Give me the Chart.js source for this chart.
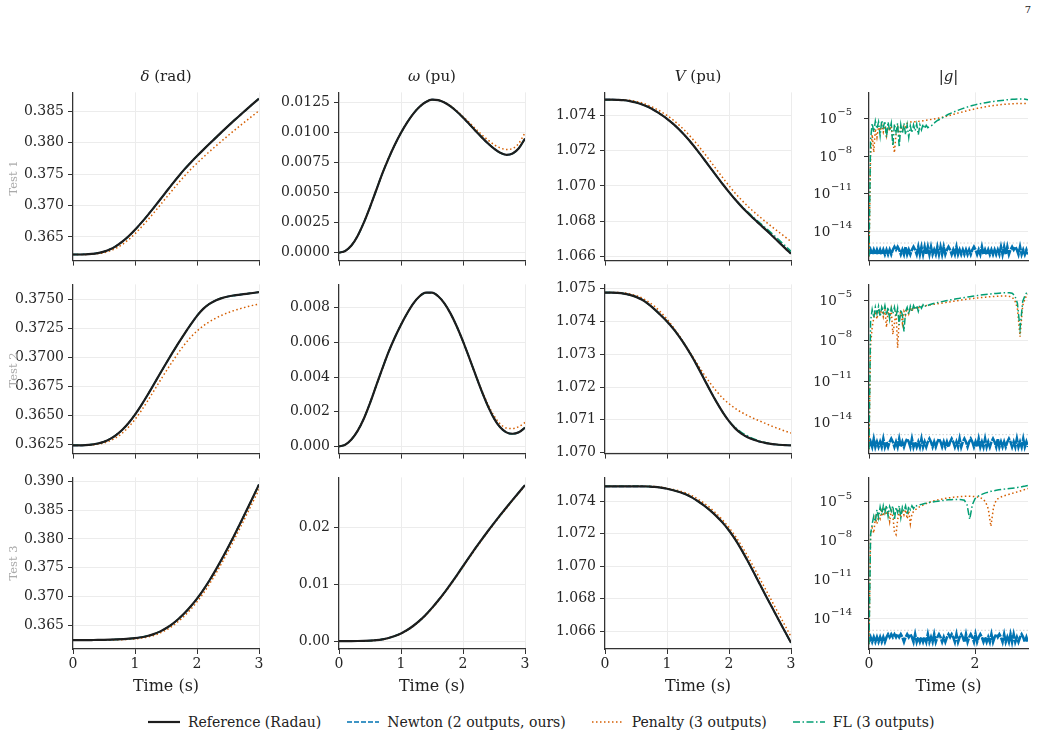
<!DOCTYPE html>
<html>
<head>
<meta charset="utf-8">
<script src="https://cdn.jsdelivr.net/npm/chart.js@4.4.1/dist/chart.umd.min.js"></script>
<style>
  body { margin: 0; background: #fff; font-family: 'DejaVu Serif', serif; color: #222; }
  #fig { position: relative; width: 1038px; height: 738px; overflow: hidden; }
  #fig canvas { position: absolute; }
  .title { position: absolute; top: 66px; text-align: center; font-size: 15px; line-height: 20px; }
  .xlabel { position: absolute; top: 676px; text-align: center; font-size: 16px; line-height: 20px; }
  .rowlab { position: absolute; width: 80px; text-align: center; font-size: 11.5px; line-height: 14px; color: #aaa; transform: rotate(-90deg); }
  .legend { position: absolute; left: 148px; top: 713px; display: flex; gap: 26px; font-size: 14px; line-height: 18px; }
  .legend span { display: flex; align-items: center; white-space: nowrap; }
  .legend svg { margin-right: 8px; }
  .pageno { position: absolute; right: 7px; top: 4px; font-size: 10px; }
</style>
</head>
<body>
<div id="fig"></div>
<script>
// time axis of the state trajectories (s)
const time = [0, 0.1, 0.2, 0.3, 0.4, 0.5, 0.6, 0.7, 0.8, 0.9, 1.0, 1.1, 1.2, 1.3, 1.4, 1.5, 1.6, 1.7, 1.8, 1.9,
  2.0, 2.1, 2.2, 2.3, 2.4, 2.5, 2.6, 2.7, 2.8, 2.9, 3.0];

// ---- Test 1 ----
const delta1Ref = [0.36222, 0.36222, 0.36225, 0.36232, 0.36245, 0.36268, 0.36305, 0.36360, 0.36430, 0.36515,
  0.36614, 0.36724, 0.36840, 0.36962, 0.37087, 0.37214, 0.37340, 0.37462, 0.37578, 0.37685,
  0.37786, 0.37884, 0.37980, 0.38075, 0.38170, 0.38262, 0.38352, 0.38440, 0.38528, 0.38614, 0.38698];
const delta1Pen = [0.36222, 0.36222, 0.36223, 0.36227, 0.36236, 0.36252, 0.36280, 0.36325, 0.36385, 0.36462,
  0.36552, 0.36655, 0.36765, 0.36880, 0.37000, 0.37120, 0.37240, 0.37358, 0.37470, 0.37575,
  0.37672, 0.37765, 0.37855, 0.37942, 0.38026, 0.38110, 0.38192, 0.38272, 0.38350, 0.38428, 0.38505];
const omega1Ref = [0, 0.00015, 0.0006, 0.0014, 0.0025, 0.0038, 0.0052, 0.0066, 0.00785, 0.00898,
  0.00998, 0.01085, 0.01158, 0.01215, 0.01254, 0.01274, 0.01270, 0.01250, 0.01218, 0.01175,
  0.01125, 0.01071, 0.01016, 0.00962, 0.00911, 0.00866, 0.00832, 0.00815, 0.00826, 0.00870, 0.00950];
const omega1Pen = [0, 0.00015, 0.0006, 0.0014, 0.0025, 0.0038, 0.0052, 0.0066, 0.00785, 0.00898,
  0.00998, 0.01085, 0.01158, 0.01215, 0.01254, 0.01274, 0.01271, 0.01252, 0.01222, 0.01180,
  0.01134, 0.01084, 0.01033, 0.00984, 0.00939, 0.00900, 0.00872, 0.00860, 0.00868, 0.00910, 0.00998];
const volt1Ref = [1.07487, 1.07487, 1.07486, 1.07484, 1.07479, 1.07471, 1.07460, 1.07445, 1.07426, 1.07404,
  1.07379, 1.07350, 1.07317, 1.07280, 1.07239, 1.07195, 1.07149, 1.07102, 1.07055, 1.07009,
  1.06965, 1.06923, 1.06884, 1.06848, 1.06814, 1.06782, 1.06750, 1.06717, 1.06684, 1.06650, 1.06617];
const volt1Fl = [1.07487, 1.07487, 1.07486, 1.07484, 1.07479, 1.07471, 1.07460, 1.07445, 1.07426, 1.07404,
  1.07379, 1.07350, 1.07317, 1.07280, 1.07239, 1.07195, 1.07149, 1.07102, 1.07055, 1.07009,
  1.06965, 1.06925, 1.06888, 1.06853, 1.06821, 1.06790, 1.06760, 1.06729, 1.06697, 1.06664, 1.06630];
const volt1Pen = [1.07487, 1.07487, 1.07487, 1.07486, 1.07483, 1.07477, 1.07468, 1.07455, 1.07439, 1.07420,
  1.07398, 1.07372, 1.07342, 1.07308, 1.07270, 1.07229, 1.07185, 1.07139, 1.07092, 1.07046,
  1.07001, 1.06959, 1.06921, 1.06886, 1.06854, 1.06824, 1.06795, 1.06767, 1.06740, 1.06713, 1.06686];

// ---- Test 2 ----
const delta2Ref = [0.36242, 0.36242, 0.36244, 0.36249, 0.36258, 0.36273, 0.36298, 0.36333, 0.36379, 0.36437,
  0.36507, 0.36587, 0.36674, 0.36765, 0.36857, 0.36948, 0.37037, 0.37123, 0.37206, 0.37285,
  0.37359, 0.37419, 0.37462, 0.37492, 0.37512, 0.37526, 0.37535, 0.37542, 0.37549, 0.37556, 0.37563];
const delta2Pen = [0.36242, 0.36242, 0.36243, 0.36246, 0.36252, 0.36263, 0.36282, 0.36310, 0.36350, 0.36402,
  0.36466, 0.36540, 0.36622, 0.36708, 0.36795, 0.36880, 0.36962, 0.37040, 0.37112, 0.37175,
  0.37228, 0.37272, 0.37308, 0.37338, 0.37364, 0.37386, 0.37405, 0.37421, 0.37436, 0.37449, 0.37461];
const omega2Ref = [0, 0.0001, 0.0004, 0.0009, 0.0016, 0.0025, 0.0035, 0.0045, 0.00545, 0.00628,
  0.00702, 0.00768, 0.00825, 0.00866, 0.00887, 0.00887, 0.00866, 0.00825, 0.00766, 0.00692,
  0.00606, 0.00512, 0.00415, 0.00320, 0.00234, 0.00162, 0.00110, 0.00081, 0.00073, 0.00082, 0.00108];
const omega2Pen = [0, 0.0001, 0.0004, 0.0009, 0.0016, 0.0025, 0.0035, 0.0045, 0.00545, 0.00628,
  0.00702, 0.00768, 0.00825, 0.00866, 0.00887, 0.00887, 0.00866, 0.00825, 0.00766, 0.00692,
  0.00606, 0.00512, 0.00416, 0.00326, 0.00244, 0.00177, 0.00130, 0.00106, 0.00103, 0.00114, 0.00138];
const volt2Ref = [1.07488, 1.07488, 1.07487, 1.07485, 1.07481, 1.07475, 1.07466, 1.07453, 1.07437, 1.07419,
  1.07400, 1.07378, 1.07353, 1.07325, 1.07294, 1.07260, 1.07224, 1.07188, 1.07154, 1.07123,
  1.07096, 1.07074, 1.07058, 1.07047, 1.07039, 1.07033, 1.07029, 1.07026, 1.07024, 1.07023, 1.07022];
const volt2Fl = [1.07488, 1.07488, 1.07487, 1.07485, 1.07481, 1.07475, 1.07466, 1.07453, 1.07437, 1.07419,
  1.07400, 1.07378, 1.07353, 1.07325, 1.07294, 1.07260, 1.07224, 1.07188, 1.07154, 1.07123,
  1.07096, 1.07077, 1.07062, 1.07051, 1.07042, 1.07035, 1.07030, 1.07026, 1.07024, 1.07023, 1.07022];
const volt2Pen = [1.07488, 1.07488, 1.07488, 1.07487, 1.07484, 1.07479, 1.07471, 1.07460, 1.07446, 1.07428,
  1.07407, 1.07383, 1.07356, 1.07327, 1.07297, 1.07267, 1.07238, 1.07211, 1.07187, 1.07166,
  1.07149, 1.07135, 1.07123, 1.07113, 1.07104, 1.07096, 1.07088, 1.07080, 1.07073, 1.07066, 1.07060];

// ---- Test 3 ----
const delta3Ref = [0.36241, 0.36241, 0.36241, 0.36242, 0.36243, 0.36245, 0.36248, 0.36252, 0.36258, 0.36265,
  0.36275, 0.36290, 0.36312, 0.36344, 0.36388, 0.36446, 0.36519, 0.36607, 0.36710, 0.36828,
  0.36961, 0.37111, 0.37277, 0.37457, 0.37649, 0.37851, 0.38061, 0.38277, 0.38497, 0.38720, 0.38945];
const delta3Pen = [0.36241, 0.36241, 0.36241, 0.36241, 0.36241, 0.36242, 0.36243, 0.36245, 0.36249, 0.36254,
  0.36262, 0.36275, 0.36294, 0.36322, 0.36362, 0.36415, 0.36483, 0.36567, 0.36665, 0.36778,
  0.36906, 0.37052, 0.37214, 0.37390, 0.37580, 0.37780, 0.37988, 0.38202, 0.38420, 0.38640, 0.38860];
const omega3Ref = [0, 0, 0, 0.00001, 0.00003, 0.00007, 0.00015, 0.00030, 0.00055, 0.00090,
  0.00135, 0.00195, 0.00270, 0.00360, 0.00465, 0.00585, 0.00715, 0.00855, 0.01005, 0.01160,
  0.01320, 0.01480, 0.01637, 0.01789, 0.01937, 0.02080, 0.02220, 0.02356, 0.02489, 0.02621, 0.02750];
const omega3Pen = [0, 0, 0, 0.00001, 0.00003, 0.00006, 0.00013, 0.00027, 0.00051, 0.00085,
  0.00129, 0.00188, 0.00262, 0.00351, 0.00455, 0.00574, 0.00704, 0.00843, 0.00992, 0.01147,
  0.01306, 0.01466, 0.01623, 0.01776, 0.01924, 0.02067, 0.02207, 0.02343, 0.02477, 0.02609, 0.02739];
const volt3Ref = [1.07492, 1.07492, 1.07492, 1.07492, 1.07492, 1.07492, 1.07492, 1.07491, 1.07489, 1.07484,
  1.07477, 1.07468, 1.07457, 1.07443, 1.07424, 1.07400, 1.07373, 1.07342, 1.07307, 1.07267,
  1.07220, 1.07165, 1.07102, 1.07033, 1.06961, 1.06887, 1.06814, 1.06742, 1.06670, 1.06599, 1.06528];
const volt3Pen = [1.07492, 1.07492, 1.07492, 1.07492, 1.07492, 1.07492, 1.07492, 1.07492, 1.07491, 1.07487,
  1.07480, 1.07473, 1.07464, 1.07452, 1.07435, 1.07413, 1.07388, 1.07358, 1.07323, 1.07283,
  1.07238, 1.07186, 1.07127, 1.07062, 1.06993, 1.06922, 1.06850, 1.06779, 1.06708, 1.06637, 1.06566];

// ---- constraint residual |g| ----
const gTime = [0, 0.03, 0.06, 0.09, 0.12, 0.15, 0.18, 0.21, 0.24, 0.27,
  0.3, 0.33, 0.36, 0.39, 0.42, 0.45, 0.48, 0.51, 0.54, 0.57,
  0.6, 0.63, 0.66, 0.69, 0.72, 0.75, 0.78, 0.81, 0.84, 0.87,
  0.9, 0.93, 0.96, 0.99, 1.02, 1.05, 1.08, 1.11, 1.14, 1.17, 1.2,
  1.25, 1.3, 1.35, 1.4, 1.45, 1.5, 1.55, 1.6, 1.65, 1.7,
  1.75, 1.8, 1.85, 1.9, 1.95, 2.0, 2.05, 2.1, 2.15, 2.2,
  2.25, 2.3, 2.35, 2.4, 2.45, 2.5, 2.55, 2.6, 2.65, 2.7,
  2.75, 2.8, 2.85, 2.9, 2.95, 3.0];
const gTimeNewton = [0, 0.03, 0.06, 0.09, 0.12, 0.15, 0.18, 0.21, 0.24, 0.27,
  0.3, 0.33, 0.36, 0.39, 0.42, 0.45, 0.48, 0.51, 0.54, 0.57,
  0.6, 0.63, 0.66, 0.69, 0.72, 0.75, 0.78, 0.81, 0.84, 0.87,
  0.9, 0.93, 0.96, 0.99, 1.02, 1.05, 1.08, 1.11, 1.14, 1.17,
  1.2, 1.23, 1.26, 1.29, 1.32, 1.35, 1.38, 1.41, 1.44, 1.47,
  1.5, 1.53, 1.56, 1.59, 1.62, 1.65, 1.68, 1.71, 1.74, 1.77,
  1.8, 1.83, 1.86, 1.89, 1.92, 1.95, 1.98, 2.01, 2.04, 2.07,
  2.1, 2.13, 2.16, 2.19, 2.22, 2.25, 2.28, 2.31, 2.34, 2.37,
  2.4, 2.43, 2.46, 2.49, 2.52, 2.55, 2.58, 2.61, 2.64, 2.67,
  2.7, 2.73, 2.76, 2.79, 2.82, 2.85, 2.88, 2.91, 2.94, 2.97, 3.0];
const tolTime = [0, 3];
const tolLine = [1.2e-15, 1.2e-15];

const gFl1 = [1e-16, 2e-7, 4e-6, 8e-7, 6e-6, 1.5e-6, 5e-6, 4e-7, 7e-6, 2e-6,
  6e-6, 3e-7, 5e-6, 1e-6, 4e-6, 6e-8, 3.5e-6, 8e-7, 4e-6, 5e-8,
  3e-6, 6e-7, 4e-6, 5e-7, 3e-6, 3e-7, 2.5e-6, 7e-7, 3e-6, 1e-6,
  3.5e-6, 5e-7, 3e-6, 1.2e-6, 3.5e-6, 1.5e-6, 2.8e-6, 1.8e-6, 2.2e-6, 2.5e-6, 3e-6,
  5e-6, 7e-6, 9e-6, 1.2e-5, 1.6e-5, 2.1e-5, 2.6e-5, 3.2e-5, 3.9e-5, 4.7e-5,
  5.6e-5, 6.6e-5, 7.8e-5, 9e-5, 1.03e-4, 1.17e-4, 1.31e-4, 1.46e-4, 1.61e-4, 1.76e-4,
  1.9e-4, 2.05e-4, 2.2e-4, 2.35e-4, 2.5e-4, 2.65e-4, 2.8e-4, 2.95e-4, 3.1e-4, 3.25e-4,
  3.35e-4, 3.45e-4, 3.5e-4, 3.45e-4, 3.3e-4, 3.05e-4];
const gPen1 = [1e-16, 1e-8, 5e-7, 2e-8, 1.5e-6, 3e-7, 2e-6, 1e-6, 3e-6, 8e-7,
  2.5e-6, 4e-7, 2e-6, 1e-6, 2.5e-6, 1.5e-7, 1.8e-8, 6e-7, 2e-6, 3e-7,
  2.5e-6, 1e-6, 3e-6, 2e-6, 4e-6, 4.5e-6, 5e-6, 5e-6, 5.2e-6, 5.3e-6,
  5.5e-6, 5.7e-6, 5.9e-6, 6.1e-6, 6.4e-6, 6.7e-6, 7e-6, 7.3e-6, 7.7e-6, 8.1e-6, 8.5e-6,
  9.2e-6, 1e-5, 1.1e-5, 1.25e-5, 1.4e-5, 1.6e-5, 1.85e-5, 2.1e-5, 2.4e-5, 2.75e-5,
  3.1e-5, 3.5e-5, 4e-5, 4.5e-5, 5e-5, 5.6e-5, 6.2e-5, 6.8e-5, 7.5e-5, 8.2e-5,
  8.9e-5, 9.6e-5, 1.03e-4, 1.1e-4, 1.18e-4, 1.25e-4, 1.3e-4, 1.35e-4, 1.4e-4, 1.44e-4,
  1.47e-4, 1.49e-4, 1.5e-4, 1.5e-4, 1.49e-4, 1.48e-4];
const gNewton1 = [1.5e-16, 3.5e-16, 1.5e-16, 3.5e-16, 1.5e-16, 3.5e-16, 1.5e-16, 3.5e-16, 1.5e-16, 3.5e-16,
  1.5e-16, 3.5e-16, 1.5e-16, 3.5e-16, 1.5e-16, 3.5e-16, 6e-16, 3.5e-16, 6e-16, 3.5e-16,
  1.5e-16, 3.5e-16, 1.5e-16, 6e-16, 1.5e-16, 3.5e-16, 1.5e-16, 3.5e-16, 6e-16, 3.5e-16,
  1.5e-16, 6e-16, 1.5e-16, 6e-16, 1.5e-16, 6e-16, 1.5e-16, 6e-16, 1.5e-16, 6e-16,
  1.5e-16, 3.5e-16, 1.5e-16, 6e-16, 1.5e-16, 6e-16, 1.5e-16, 6e-16, 1.5e-16, 3.5e-16,
  6e-16, 3.5e-16, 1.5e-16, 3.5e-16, 1.5e-16, 6e-16, 1.5e-16, 3.5e-16, 1.5e-16, 3.5e-16,
  1.5e-16, 3.5e-16, 1.5e-16, 3.5e-16, 1.5e-16, 3.5e-16, 6e-16, 3.5e-16, 1.5e-16, 3.5e-16,
  1.5e-16, 6e-16, 1.5e-16, 3.5e-16, 1.5e-16, 3.5e-16, 1.5e-16, 3.5e-16, 1.5e-16, 3.5e-16,
  1.5e-16, 3.5e-16, 1.5e-16, 6e-16, 1.5e-16, 6e-16, 1.5e-16, 6e-16, 1.5e-16, 3.5e-16,
  6e-16, 3.5e-16, 6e-16, 3.5e-16, 1.5e-16, 6e-16, 1.5e-16, 3.5e-16, 1.5e-16, 3.5e-16, 1.5e-16];

const gFl2 = [1e-16, 3e-7, 2e-6, 5e-7, 3e-6, 1e-6, 3.5e-6, 6e-7, 3e-6, 1.2e-6,
  4e-6, 8e-7, 3e-6, 4e-7, 2.5e-6, 1e-6, 3e-6, 6e-7, 2.5e-6, 1.5e-7,
  2e-6, 8e-7, 5e-8, 1.5e-6, 3e-6, 9e-7, 3.5e-6, 1.5e-6, 4e-6, 2e-6,
  4e-6, 1.5e-6, 4.5e-6, 2.5e-6, 4.5e-6, 3e-6, 4.5e-6, 4e-6, 4.6e-6, 5e-6, 5.4e-6,
  6e-6, 6.7e-6, 7.4e-6, 8.1e-6, 8.9e-6, 9.7e-6, 1.06e-5, 1.15e-5, 1.25e-5, 1.35e-5,
  1.46e-5, 1.57e-5, 1.69e-5, 1.81e-5, 1.94e-5, 2.07e-5, 2.2e-5, 2.33e-5, 2.46e-5, 2.6e-5,
  2.74e-5, 2.88e-5, 3.02e-5, 3.15e-5, 3.28e-5, 3.4e-5, 3.5e-5, 3.55e-5, 3.5e-5, 3.2e-5,
  2.2e-5, 6e-6, 8e-8, 8e-6, 2.6e-5, 4.5e-5];
const gPen2 = [1e-16, 5e-9, 1e-7, 5e-7, 1.5e-6, 4e-7, 2e-6, 8e-7, 2.5e-6, 6e-7,
  2e-6, 1e-7, 1.5e-6, 5e-7, 2e-6, 3e-8, 2e-7, 1.5e-6, 3e-9, 4e-7,
  1.8e-6, 2e-7, 1.5e-6, 8e-7, 2.5e-6, 1e-6, 2.8e-6, 1.5e-6, 3e-6, 2e-6,
  3.2e-6, 2.5e-6, 3.4e-6, 3.5e-6, 3.6e-6, 3.8e-6, 4e-6, 4.2e-6, 4.4e-6, 4.6e-6, 4.8e-6,
  5.1e-6, 5.5e-6, 5.9e-6, 6.3e-6, 6.8e-6, 7.3e-6, 7.8e-6, 8.4e-6, 9e-6, 9.6e-6,
  1.03e-5, 1.1e-5, 1.17e-5, 1.24e-5, 1.31e-5, 1.38e-5, 1.45e-5, 1.52e-5, 1.59e-5, 1.66e-5,
  1.73e-5, 1.8e-5, 1.86e-5, 1.92e-5, 1.97e-5, 2e-5, 2.02e-5, 2e-5, 1.9e-5, 1.6e-5,
  1e-5, 2.5e-6, 2e-8, 4e-6, 1.5e-5, 2.8e-5];
const gNewton2 = [1.5e-16, 3.5e-16, 1.5e-16, 6e-16, 1.5e-16, 3.5e-16, 1.5e-16, 3.5e-16, 1.5e-16, 6e-16,
  1.5e-16, 3.5e-16, 1.5e-16, 3.5e-16, 6e-16, 3.5e-16, 1.5e-16, 3.5e-16, 1.5e-16, 6e-16,
  1.5e-16, 3.5e-16, 1.5e-16, 3.5e-16, 6e-16, 3.5e-16, 1.5e-16, 6e-16, 1.5e-16, 3.5e-16,
  1.5e-16, 3.5e-16, 1.5e-16, 6e-16, 1.5e-16, 3.5e-16, 1.5e-16, 3.5e-16, 6e-16, 3.5e-16,
  1.5e-16, 3.5e-16, 1.5e-16, 3.5e-16, 6e-16, 3.5e-16, 1.5e-16, 3.5e-16, 1.5e-16, 3.5e-16,
  1.5e-16, 3.5e-16, 6e-16, 3.5e-16, 1.5e-16, 3.5e-16, 1.5e-16, 6e-16, 1.5e-16, 3.5e-16,
  6e-16, 3.5e-16, 1.5e-16, 3.5e-16, 6e-16, 3.5e-16, 1.5e-16, 3.5e-16, 1.5e-16, 6e-16,
  1.5e-16, 3.5e-16, 1.5e-16, 6e-16, 1.5e-16, 3.5e-16, 1.5e-16, 3.5e-16, 6e-16, 3.5e-16,
  1.5e-16, 6e-16, 1.5e-16, 3.5e-16, 1.5e-16, 3.5e-16, 1.5e-16, 3.5e-16, 6e-16, 3.5e-16,
  1.5e-16, 3.5e-16, 1.5e-16, 6e-16, 1.5e-16, 3.5e-16, 1.5e-16, 6e-16, 1.5e-16, 3.5e-16, 1.5e-16];

const gFl3 = [1e-16, 3e-8, 2e-7, 8e-7, 3e-7, 2.5e-6, 6e-7, 4e-6, 1e-6, 5e-6,
  1.5e-6, 5.5e-6, 8e-7, 4.5e-6, 2e-6, 5e-6, 4e-7, 4e-6, 1.5e-6, 5e-6,
  6e-7, 4e-6, 2e-6, 5e-6, 1e-6, 4.5e-6, 2.5e-6, 5e-6, 3e-6, 5.5e-6,
  5e-6, 5.5e-6, 6e-6, 6.5e-6, 7e-6, 7.5e-6, 8e-6, 8.5e-6, 9e-6, 9.5e-6, 1e-5,
  1.08e-5, 1.15e-5, 1.22e-5, 1.3e-5, 1.38e-5, 1.45e-5, 1.5e-5, 1.53e-5, 1.55e-5, 1.55e-5,
  1.5e-5, 1.35e-5, 6e-6, 4.5e-7, 6e-6, 1.8e-5, 2.6e-5, 3.4e-5, 4.2e-5, 5e-5,
  5.8e-5, 6.6e-5, 7.3e-5, 8e-5, 8.6e-5, 9.2e-5, 9.8e-5, 1.04e-4, 1.1e-4, 1.16e-4,
  1.22e-4, 1.3e-4, 1.4e-4, 1.55e-4, 1.7e-4, 1.9e-4];
const gPen3 = [1e-16, 4e-8, 1e-7, 4e-8, 6e-7, 2e-7, 1e-6, 5e-7, 2e-6, 8e-7,
  2.5e-6, 1e-6, 2e-6, 3e-7, 2e-6, 8e-7, 5e-8, 3e-8, 4e-7, 2e-6,
  6e-7, 2.5e-6, 1e-6, 2.5e-6, 5e-7, 2e-6, 2e-7, 1.2e-6, 1.8e-6, 2.4e-6,
  3e-6, 3.6e-6, 4.3e-6, 5e-6, 5.8e-6, 6.6e-6, 7.5e-6, 8.5e-6, 9.5e-6, 1.05e-5, 1.15e-5,
  1.3e-5, 1.45e-5, 1.6e-5, 1.75e-5, 1.9e-5, 2.05e-5, 2.2e-5, 2.35e-5, 2.45e-5, 2.55e-5,
  2.65e-5, 2.7e-5, 2.75e-5, 2.75e-5, 2.7e-5, 2.6e-5, 2.4e-5, 2.1e-5, 1.7e-5, 1e-5,
  3e-6, 1.3e-7, 4e-6, 1.4e-5, 2e-5, 2.5e-5, 3e-5, 3.5e-5, 4e-5, 4.6e-5,
  5.3e-5, 6e-5, 7e-5, 8e-5, 9.5e-5, 1.1e-4];
const gNewton3 = [1.5e-16, 3.5e-16, 1.5e-16, 3.5e-16, 1.5e-16, 3.5e-16, 1.5e-16, 3.5e-16, 1.5e-16, 3.5e-16,
  1.5e-16, 3.5e-16, 6e-16, 3.5e-16, 6e-16, 3.5e-16, 6e-16, 3.5e-16, 6e-16, 3.5e-16,
  6e-16, 3.5e-16, 1.5e-16, 3.5e-16, 6e-16, 3.5e-16, 6e-16, 3.5e-16, 1.5e-16, 6e-16,
  1.5e-16, 3.5e-16, 1.5e-16, 3.5e-16, 1.5e-16, 3.5e-16, 1.5e-16, 6e-16, 1.5e-16, 3.5e-16,
  1.5e-16, 6e-16, 1.5e-16, 3.5e-16, 6e-16, 3.5e-16, 1.5e-16, 3.5e-16, 1.5e-16, 3.5e-16,
  6e-16, 3.5e-16, 6e-16, 3.5e-16, 1.5e-16, 6e-16, 1.5e-16, 3.5e-16, 6e-16, 3.5e-16,
  1.5e-16, 6e-16, 1.5e-16, 3.5e-16, 6e-16, 3.5e-16, 1.5e-16, 6e-16, 1.5e-16, 3.5e-16,
  6e-16, 3.5e-16, 1.5e-16, 3.5e-16, 1.5e-16, 3.5e-16, 1.5e-16, 6e-16, 1.5e-16, 3.5e-16,
  6e-16, 3.5e-16, 6e-16, 3.5e-16, 1.5e-16, 6e-16, 1.5e-16, 3.5e-16, 1.5e-16, 6e-16,
  1.5e-16, 6e-16, 1.5e-16, 3.5e-16, 1.5e-16, 3.5e-16, 6e-16, 3.5e-16, 1.5e-16, 3.5e-16, 1.5e-16];

// tick labels
const timeTicks = ['0', '1', '2', '3'];
const gTimeTicks = ['0', '2'];
const delta1Ticks = ['0.365', '0.370', '0.375', '0.380', '0.385'];
const omega1Ticks = ['0.0000', '0.0025', '0.0050', '0.0075', '0.0100', '0.0125'];
const volt1Ticks = ['1.066', '1.068', '1.070', '1.072', '1.074'];
const delta2Ticks = ['0.3625', '0.3650', '0.3675', '0.3700', '0.3725', '0.3750'];
const omega2Ticks = ['0.000', '0.002', '0.004', '0.006', '0.008'];
const volt2Ticks = ['1.070', '1.071', '1.072', '1.073', '1.074', '1.075'];
const delta3Ticks = ['0.365', '0.370', '0.375', '0.380', '0.385', '0.390'];
const omega3Ticks = ['0.00', '0.01', '0.02'];
const volt3Ticks = ['1.066', '1.068', '1.070', '1.072', '1.074'];
const gTickValues = [1e-14, 1e-11, 1e-8, 1e-5];
const gTickExponents = ['\u221214', '\u221211', '\u22128', '\u22125'];

const panelTitles = ['<i>\u03b4</i> (rad)', '<i>\u03c9</i> (pu)', '<i>V</i> (pu)', '|<i>g</i>|'];
const rowLabels = ['Test 1', 'Test 2', 'Test 3'];
const legendLabels = ['Reference (Radau)', 'Newton (2 outputs, ours)', 'Penalty (3 outputs)', 'FL (3 outputs)'];

// layout of the plot areas
const cols = [
  { left: 73, width: 186 },
  { left: 339, width: 186 },
  { left: 605, width: 186 },
  { left: 869, width: 159 }
];
const rows = [
  { top: 92, height: 171 },
  { top: 284, height: 172 },
  { top: 477, height: 172 }
];

const styles = {
  ref: { borderColor: '#1e1e1e', borderWidth: 2.2 },
  newton: { borderColor: '#0173b2', borderWidth: 1.6, borderDash: [5, 2] },
  pen: { borderColor: '#d55e00', borderWidth: 1.5, borderDash: [1.5, 2.5] },
  fl: { borderColor: '#029e73', borderWidth: 1.5, borderDash: [7, 2.5, 1.5, 2.5] },
  tol: { borderColor: '#cfcfcf', borderWidth: 1, borderDash: [1.5, 2] }
};

const panels = [
  { row: 0, col: 0, ref: delta1Ref, newton: delta1Ref, pen: delta1Pen, fl: delta1Ref, ticks: delta1Ticks, min: 0.36125, max: 0.38797 },
  { row: 0, col: 1, ref: omega1Ref, newton: omega1Ref, pen: omega1Pen, fl: omega1Ref, ticks: omega1Ticks, min: -0.000655, max: 0.013343 },
  { row: 0, col: 2, ref: volt1Ref, newton: volt1Ref, pen: volt1Pen, fl: volt1Fl, ticks: volt1Ticks, min: 1.06578, max: 1.07528 },
  { row: 0, col: 3, log: true, newton: gNewton1, pen: gPen1, fl: gFl1, min: 4.8e-17, max: 1.15e-3 },
  { row: 1, col: 0, ref: delta2Ref, newton: delta2Ref, pen: delta2Pen, fl: delta2Ref, ticks: delta2Ticks, min: 0.36171, max: 0.37630 },
  { row: 1, col: 1, ref: omega2Ref, newton: omega2Ref, pen: omega2Pen, fl: omega2Ref, ticks: omega2Ticks, min: -0.000414, max: 0.009345 },
  { row: 1, col: 2, ref: volt2Ref, newton: volt2Ref, pen: volt2Pen, fl: volt2Fl, ticks: volt2Ticks, min: 1.06997, max: 1.07513 },
  { row: 1, col: 3, log: true, newton: gNewton2, pen: gPen2, fl: gFl2, min: 4.8e-17, max: 1.45e-4 },
  { row: 2, col: 0, ref: delta3Ref, newton: delta3Ref, pen: delta3Pen, fl: delta3Ref, ticks: delta3Ticks, min: 0.36086, max: 0.39069 },
  { row: 2, col: 1, ref: omega3Ref, newton: omega3Ref, pen: omega3Pen, fl: omega3Ref, ticks: omega3Ticks, min: -0.0014, max: 0.02886 },
  { row: 2, col: 2, ref: volt3Ref, newton: volt3Ref, pen: volt3Pen, fl: volt3Ref, ticks: volt3Ticks, min: 1.0649, max: 1.07547 },
  { row: 2, col: 3, log: true, newton: gNewton3, pen: gPen3, fl: gFl3, min: 4.3e-17, max: 7.9e-4 }
];

const FONT = { family: 'DejaVu Serif', size: 14 };
const TEXT = '#262626';
const fig = document.getElementById('fig');

function points(xs, ys) {
  return xs.map((x, i) => ({ x: x, y: ys[i] }));
}

// draws "10" with a raised exponent next to each log tick
const powerTickLabels = {
  id: 'powerTickLabels',
  afterDraw(chart) {
    const s = chart.scales.y;
    const ctx = chart.ctx;
    ctx.save();
    ctx.fillStyle = TEXT;
    ctx.textAlign = 'right';
    ctx.textBaseline = 'middle';
    gTickValues.forEach((v, i) => {
      const y = s.getPixelForValue(v);
      const xr = s.right - 17;
      ctx.font = '10px "DejaVu Serif"';
      ctx.fillText(gTickExponents[i], xr, y - 6);
      const w = ctx.measureText(gTickExponents[i]).width;
      ctx.font = '13.5px "DejaVu Serif"';
      ctx.fillText('10', xr - w - 0.5, y + 1);
    });
    ctx.restore();
  }
};

function addPanel(p) {
  const c = cols[p.col], r = rows[p.row];
  const bottom = p.row === 2;
  const PAD = 12, YW = 72, XH = bottom ? 28 : 10;
  const canvas = document.createElement('canvas');
  canvas.width = YW + c.width + PAD;
  canvas.height = PAD + r.height + XH;
  canvas.style.left = (c.left - YW) + 'px';
  canvas.style.top = (r.top - PAD) + 'px';
  fig.appendChild(canvas);

  const xTicks = p.log ? gTimeTicks : timeTicks;
  let datasets;
  if (p.log) {
    datasets = [
      Object.assign({ data: points(gTime, p.fl) }, styles.fl),
      Object.assign({ data: points(gTime, p.pen) }, styles.pen),
      Object.assign({ data: points(gTimeNewton, p.newton) }, styles.newton, { borderDash: [9, 1], borderWidth: 2.6 }),
      Object.assign({ data: points(tolTime, tolLine) }, styles.tol)
    ];
  } else {
    const smooth = { cubicInterpolationMode: 'monotone' };
    datasets = [
      Object.assign({ data: points(time, p.ref) }, styles.ref, smooth),
      Object.assign({ data: points(time, p.fl) }, styles.fl, smooth),
      Object.assign({ data: points(time, p.pen) }, styles.pen, smooth),
      Object.assign({ data: points(time, p.newton) }, styles.newton, smooth)
    ];
  }

  const grid = { color: '#ececec', lineWidth: 1, tickLength: 5, tickColor: '#333', tickWidth: 1 };
  const border = { color: '#333', width: 1.2 };

  new Chart(canvas, {
    type: 'line',
    data: { datasets: datasets },
    options: {
      responsive: false,
      animation: false,
      events: [],
      layout: { padding: { top: PAD, right: PAD, left: 0, bottom: 0 } },
      elements: { point: { radius: 0 }, line: { tension: 0, borderCapStyle: 'butt' } },
      plugins: { legend: { display: false }, tooltip: { enabled: false } },
      scales: {
        x: {
          type: 'linear',
          min: 0,
          max: 3,
          afterBuildTicks: s => { s.ticks = xTicks.map(t => ({ value: parseFloat(t) })); },
          afterFit: s => { s.height = XH; },
          ticks: {
            font: FONT, color: TEXT, padding: 2, maxRotation: 0, autoSkip: false,
            callback: (v, i) => bottom ? xTicks[i] : ''
          },
          grid: grid,
          border: border
        },
        y: {
          type: p.log ? 'logarithmic' : 'linear',
          min: p.min,
          max: p.max,
          afterBuildTicks: s => {
            s.ticks = p.log ? gTickValues.map(v => ({ value: v })) : p.ticks.map(t => ({ value: parseFloat(t) }));
          },
          afterFit: s => { s.width = YW; },
          ticks: {
            font: FONT, color: TEXT, padding: 4, autoSkip: false,
            callback: (v, i) => p.log ? '' : p.ticks[i]
          },
          grid: grid,
          border: border
        }
      }
    },
    plugins: p.log ? [powerTickLabels] : []
  });
}

panels.forEach(addPanel);

// titles, axis labels and row labels
cols.forEach((c, i) => {
  const t = document.createElement('div');
  t.className = 'title';
  t.style.left = c.left + 'px';
  t.style.width = c.width + 'px';
  t.innerHTML = panelTitles[i];
  fig.appendChild(t);

  const xl = document.createElement('div');
  xl.className = 'xlabel';
  xl.style.left = c.left + 'px';
  xl.style.width = c.width + 'px';
  xl.textContent = 'Time (s)';
  fig.appendChild(xl);
});
rows.forEach((r, i) => {
  const d = document.createElement('div');
  d.className = 'rowlab';
  d.style.left = (13 - 40) + 'px';
  d.style.top = (r.top + r.height / 2 - 7) + 'px';
  d.textContent = rowLabels[i];
  fig.appendChild(d);
});

// legend
const legend = document.createElement('div');
legend.className = 'legend';
const legendStyles = [styles.ref, styles.newton, styles.pen, styles.fl];
legendLabels.forEach((label, i) => {
  const st = legendStyles[i];
  const item = document.createElement('span');
  const dash = st.borderDash ? st.borderDash.join(',') : 'none';
  item.innerHTML = '<svg width="32" height="10"><line x1="0" y1="5" x2="32" y2="5" stroke="' + st.borderColor +
    '" stroke-width="' + st.borderWidth + '" stroke-dasharray="' + dash + '"/></svg>';
  item.appendChild(document.createTextNode(label));
  legend.appendChild(item);
});
fig.appendChild(legend);

const pg = document.createElement('div');
pg.className = 'pageno';
pg.textContent = '7';
fig.appendChild(pg);
</script>
</body>
</html>
